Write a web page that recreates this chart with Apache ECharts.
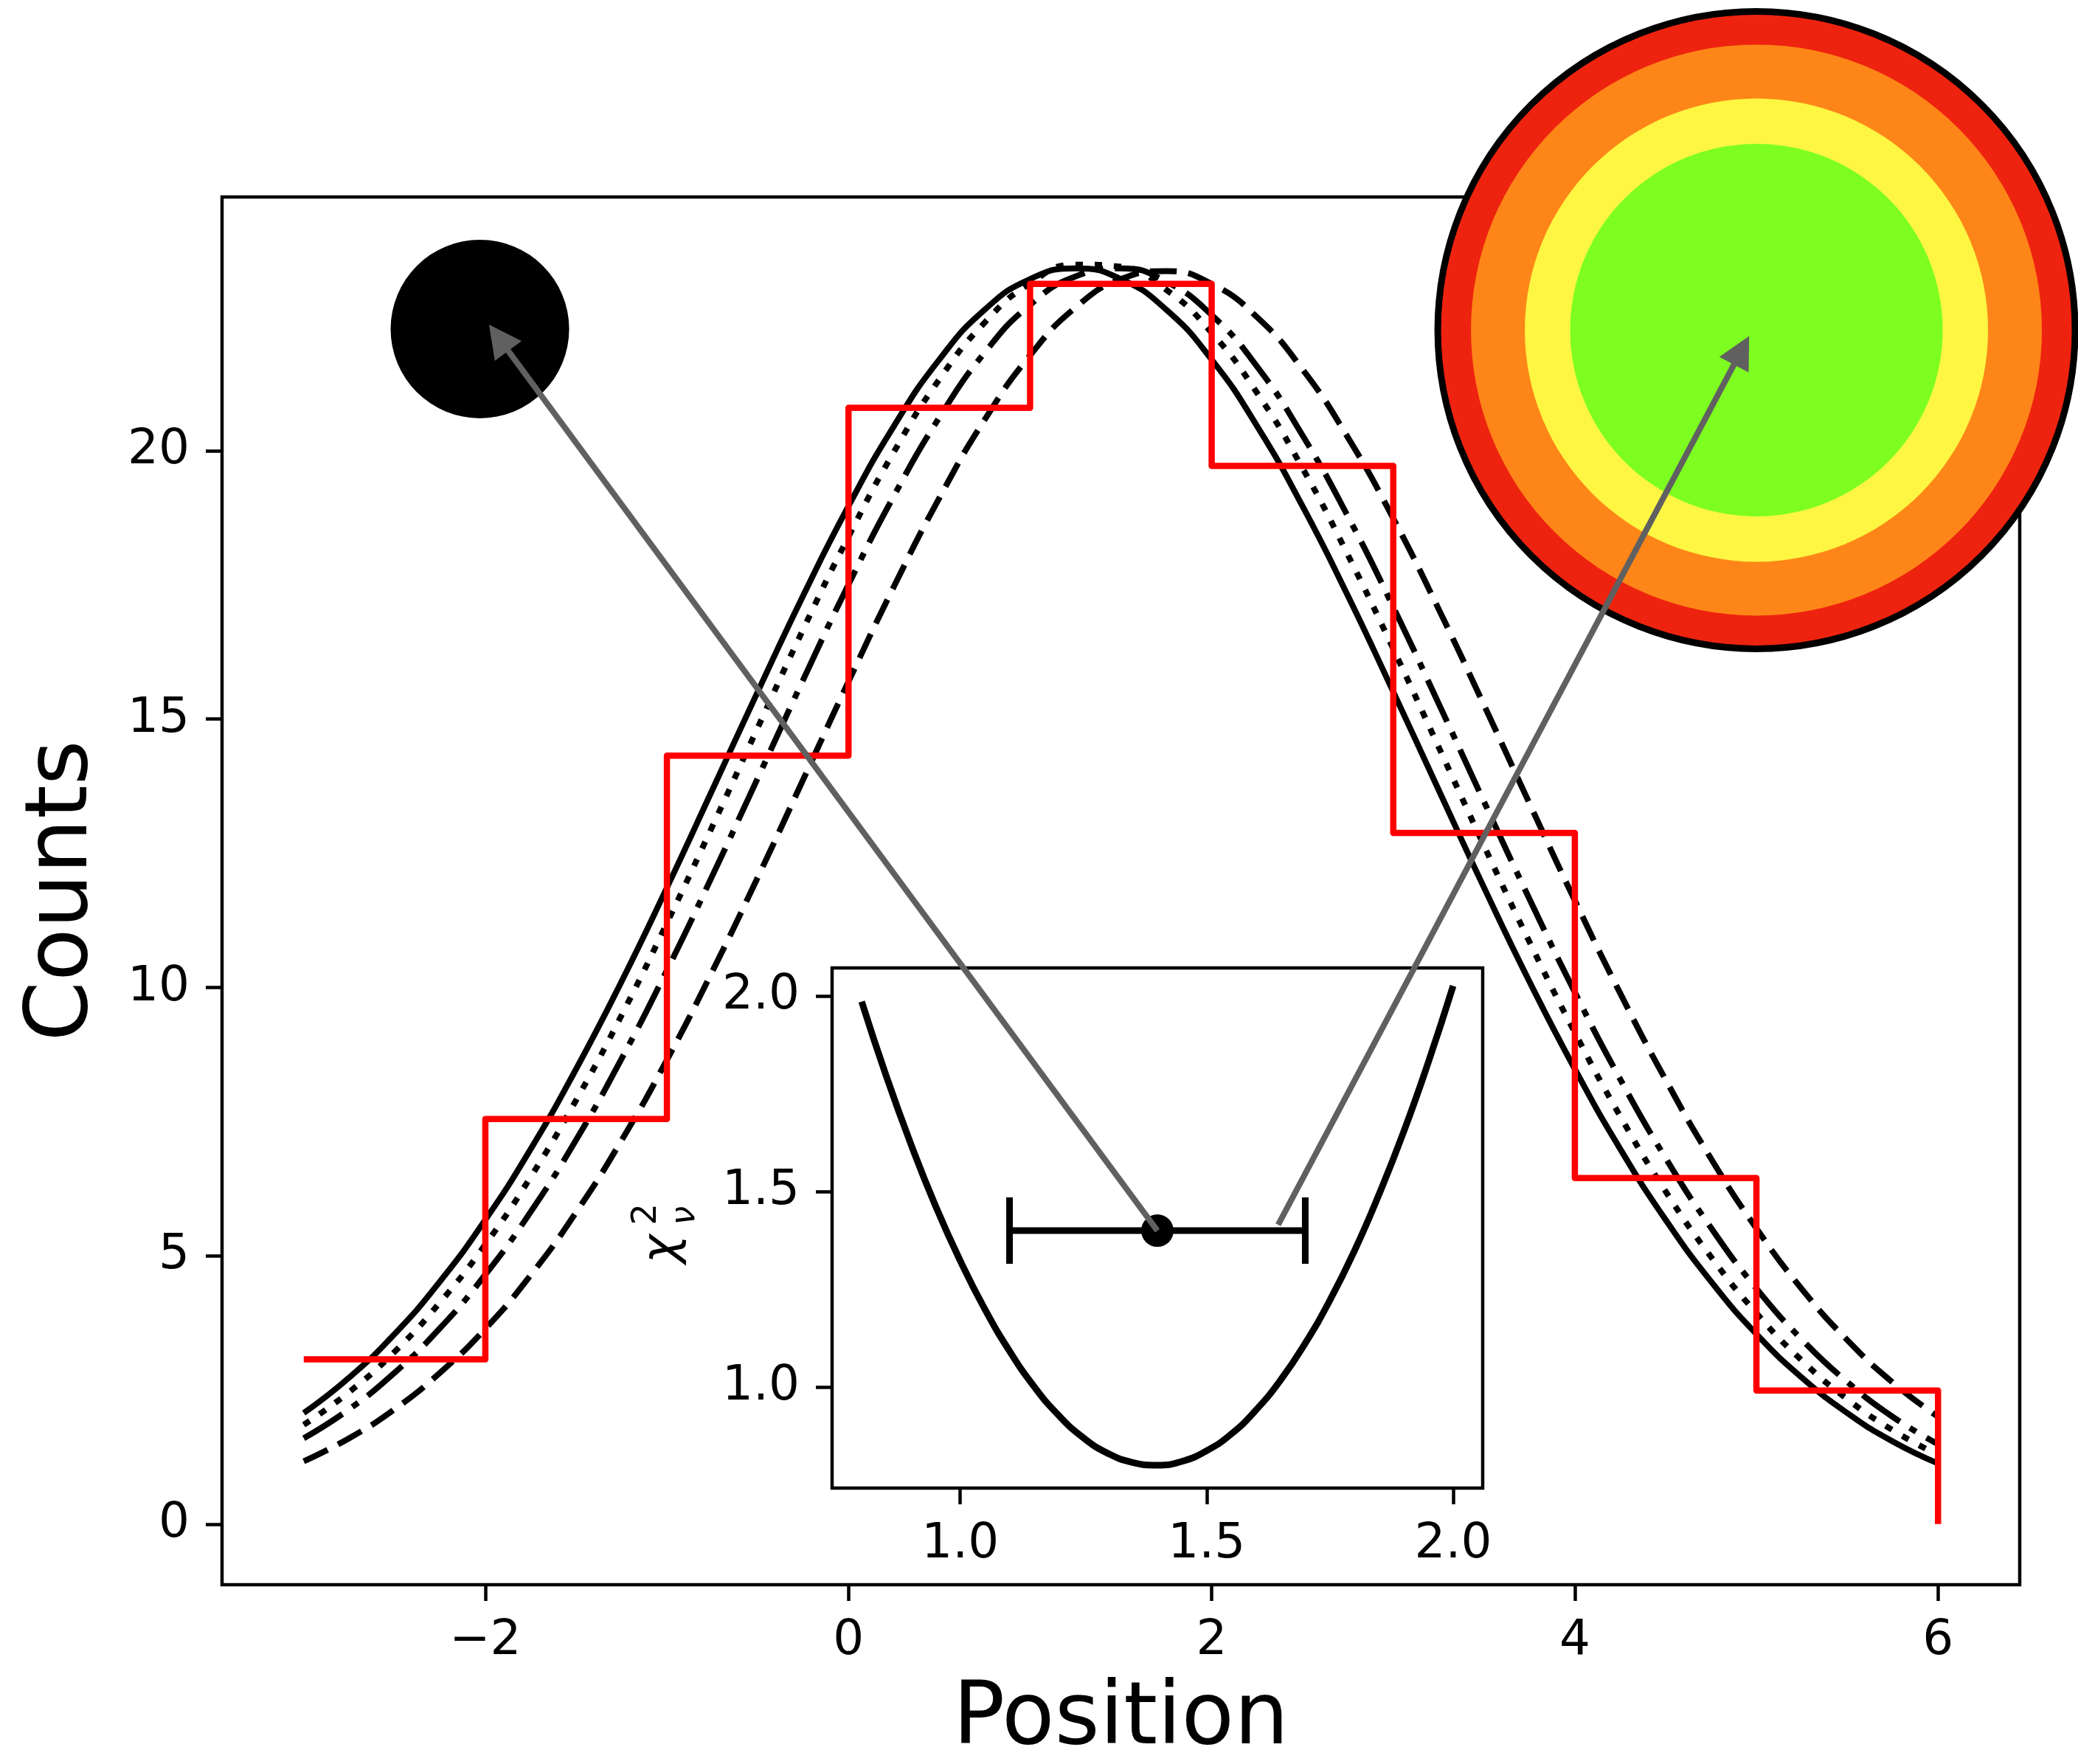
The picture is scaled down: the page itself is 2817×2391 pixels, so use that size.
<!DOCTYPE html>
<html>
<head>
<meta charset="utf-8">
<script src="https://cdn.jsdelivr.net/npm/echarts@6/dist/echarts.min.js"></script>
<style>
  html, body { margin: 0; padding: 0; background: #fff; }
  #chart { width: 2817px; height: 2391px; }
</style>
</head>
<body>
<div id="chart"></div>
<script>
// main panel: four model curves and the binned counts
var gaussX = [-3, -2.75, -2.5, -2.25, -2, -1.75, -1.5, -1.25, -1, -0.75, -0.5, -0.25, 0, 0.25, 0.5, 0.75, 1, 1.25, 1.5,
  1.75, 2, 2.25, 2.5, 2.75, 3, 3.25, 3.5, 3.75, 4, 4.25, 4.5, 4.75, 5, 5.25, 5.5, 5.75, 6];
var solidY = [2.07, 2.73, 3.54, 4.52, 5.67, 6.99, 8.48, 10.11, 11.86, 13.68, 15.51, 17.30, 18.97, 20.46, 21.70, 22.63, 23.20, 23.40, 23.20,
  22.63, 21.70, 20.46, 18.97, 17.30, 15.51, 13.68, 11.86, 10.11, 8.48, 6.99, 5.67, 4.52, 3.54, 2.73, 2.07, 1.54, 1.13];
var dottedY = [1.85, 2.46, 3.21, 4.13, 5.21, 6.47, 7.90, 9.48, 11.20, 13.00, 14.84, 16.67, 18.40, 19.98, 21.33, 22.39, 23.12, 23.47, 23.43,
  23.00, 22.20, 21.08, 19.68, 18.06, 16.31, 14.48, 12.64, 10.85, 9.16, 7.60, 6.20, 4.98, 3.93, 3.05, 2.33, 1.75, 1.29];
var dashDotY = [1.60, 2.14, 2.82, 3.65, 4.65, 5.82, 7.16, 8.67, 10.32, 12.08, 13.90, 15.73, 17.51, 19.16, 20.62, 21.83, 22.72, 23.25, 23.40,
  23.15, 22.53, 21.57, 20.29, 18.78, 17.09, 15.29, 13.46, 11.65, 9.91, 8.29, 6.82, 5.52, 4.39, 3.44, 2.65, 2.00, 1.49];
var dashedY = [1.17, 1.60, 2.14, 2.82, 3.64, 4.64, 5.81, 7.15, 8.65, 10.30, 12.05, 13.87, 15.70, 17.47, 19.12, 20.58, 21.78, 22.67, 23.20,
  23.35, 23.11, 22.49, 21.52, 20.25, 18.74, 17.05, 15.26, 13.43, 11.62, 9.89, 8.28, 6.81, 5.51, 4.38, 3.43, 2.64, 2.00];
var stepX = [-3, -2, -1, 0, 1, 2, 3, 4, 5, 6];
var stepY = [3.07, 7.55, 14.32, 20.80, 23.11, 19.72, 12.88, 6.45, 2.49, 0];

// inset: reduced chi-square curve and best fit
var chiX = [0.80, 0.85, 0.90, 0.95, 1.00, 1.05, 1.10, 1.15, 1.20, 1.25, 1.30, 1.35, 1.40,
  1.45, 1.50, 1.55, 1.60, 1.65, 1.70, 1.75, 1.80, 1.85, 1.90, 1.95, 2.00];
var chiY = [1.986, 1.795, 1.621, 1.463, 1.323, 1.199, 1.092, 1.001, 0.927, 0.870, 0.830, 0.807, 0.800,
  0.810, 0.837, 0.880, 0.941, 1.018, 1.112, 1.222, 1.349, 1.494, 1.654, 1.832, 2.026];
var bestFit = [1.4, 1.4];
var bestFitErr = 0.3;

// markers in the main panel and the arrows pointing at them
var blackDot = [-2.03, 22.27];
var ringDot = [5.0, 22.25];
var ringSizes = [864, 774, 628, 505];
var ringColors = ['#ee230f', '#fe8618', '#fef642', '#7dfe20'];
var arrowA = { from: [1.4, 1.4], to: [-1.98, 22.35] };     // from: inset coords, to: main coords
var arrowB = { from: [1.645, 1.415], to: [4.96, 22.14] };

var mainXTicks = [-2, 0, 2, 4, 6];
var mainYTicks = [0, 5, 10, 15, 20];
var insetTicks = [1.0, 1.5, 2.0];

var font = 'DejaVu Sans';

function pairs(xs, ys) {
  return xs.map(function(x, i) { return [x, ys[i]]; });
}

function axis(idx, min, max, ticks, fmt, extra) {
  var a = {
    type: 'value', gridIndex: idx, min: min, max: max,
    splitLine: { show: false },
    axisLine: { show: false, onZero: false },
    axisTick: { show: true, inside: false, customValues: ticks, length: 22, lineStyle: { color: '#000', width: 4.5 } },
    axisLabel: { customValues: ticks, formatter: fmt, fontSize: 66, fontFamily: font, color: '#000', margin: 44 }
  };
  for (var k in extra) a[k] = extra[k];
  return a;
}

function gaussSeries(ys, dash) {
  return {
    type: 'line', xAxisIndex: 0, yAxisIndex: 0, data: pairs(gaussX, ys),
    smooth: true, symbol: 'none', z: 2,
    lineStyle: { color: '#000', width: 8, type: dash }
  };
}

var chart = echarts.init(document.getElementById('chart'), null, { renderer: 'canvas' });

var series = [
  gaussSeries(solidY, 'solid'),
  gaussSeries(dottedY, [10, 16]),
  gaussSeries(dashDotY, [62, 16, 10, 16]),
  gaussSeries(dashedY, [36, 16]),
  {
    type: 'line', xAxisIndex: 0, yAxisIndex: 0, data: pairs(stepX, stepY),
    step: 'end', symbol: 'none', z: 3,
    lineStyle: { color: '#ff0000', width: 8.5, join: 'round' }
  },
  {
    type: 'scatter', xAxisIndex: 0, yAxisIndex: 0, data: [blackDot], clip: false, z: 4,
    symbol: 'circle', symbolSize: 242, itemStyle: { color: '#000', opacity: 1 }
  }
];
ringSizes.forEach(function(s, i) {
  series.push({
    type: 'scatter', xAxisIndex: 0, yAxisIndex: 0, data: [ringDot], clip: false, z: 4,
    symbol: 'circle', symbolSize: s,
    itemStyle: i === 0 ? { color: ringColors[i], borderColor: '#000', borderWidth: 9, opacity: 1 }
                       : { color: ringColors[i], opacity: 1 }
  });
});
series.push({
  type: 'line', xAxisIndex: 1, yAxisIndex: 1, data: pairs(chiX, chiY),
  smooth: true, symbol: 'none', z: 5,
  lineStyle: { color: '#000', width: 9 }
});
series.push({
  type: 'custom', xAxisIndex: 1, yAxisIndex: 1, z: 6,
  data: [[bestFit[0], bestFit[1], bestFitErr]],
  encode: { x: 0, y: 1 },
  renderItem: function(params, api) {
    var lo = api.coord([api.value(0) - api.value(2), api.value(1)]);
    var hi = api.coord([api.value(0) + api.value(2), api.value(1)]);
    var h = 45;
    var st = { stroke: '#000', lineWidth: 9 };
    return {
      type: 'group',
      children: [
        { type: 'line', shape: { x1: lo[0], y1: lo[1], x2: hi[0], y2: hi[1] }, style: st },
        { type: 'line', shape: { x1: lo[0], y1: lo[1] - h, x2: lo[0], y2: lo[1] + h }, style: st },
        { type: 'line', shape: { x1: hi[0], y1: hi[1] - h, x2: hi[0], y2: hi[1] + h }, style: st }
      ]
    };
  }
});
series.push({
  type: 'scatter', xAxisIndex: 1, yAxisIndex: 1, data: [bestFit], z: 7,
  symbol: 'circle', symbolSize: 44, itemStyle: { color: '#000', opacity: 1 }
});

chart.setOption({
  animation: false,
  backgroundColor: '#fff',
  grid: [
    { left: 301, top: 267, width: 2437, height: 1881, show: true, borderColor: '#000', borderWidth: 4.5,
      backgroundColor: 'transparent', outerBoundsMode: 'none' },
    { left: 1128, top: 1312, width: 882, height: 705, show: true, borderColor: '#000', borderWidth: 4.5,
      backgroundColor: '#fff', outerBoundsMode: 'none' }
  ],
  xAxis: [
    axis(0, -3.45, 6.45, mainXTicks, function(v) { return v < 0 ? '\u2212' + Math.abs(v) : String(v); }, {
      name: 'Position', nameLocation: 'middle', nameGap: 126,
      nameTextStyle: { fontSize: 117, fontFamily: font, color: '#000' }
    }),
    axis(1, 0.74, 2.06, insetTicks, function(v) { return v.toFixed(1); }, {})
  ],
  yAxis: [
    axis(0, -1.13, 24.73, mainYTicks, function(v) { return String(v); }, {
      name: 'Counts', nameLocation: 'middle', nameRotate: 90, nameGap: 156,
      nameTextStyle: { fontSize: 117, fontFamily: font, color: '#000' }
    }),
    axis(1, 0.7415, 2.072, insetTicks, function(v) { return v.toFixed(1); }, {})
  ],
  series: series
});

function arrow(a) {
  var p0 = chart.convertToPixel({ xAxisIndex: 1, yAxisIndex: 1 }, a.from);
  var p1 = chart.convertToPixel({ xAxisIndex: 0, yAxisIndex: 0 }, a.to);
  var dx = p1[0] - p0[0], dy = p1[1] - p0[1];
  var len = Math.sqrt(dx * dx + dy * dy);
  var ux = dx / len, uy = dy / len;
  var headLen = 44, headHalf = 22.5;
  var bx = p1[0] - ux * headLen, by = p1[1] - uy * headLen;
  return [
    { type: 'line', z: 100, shape: { x1: p0[0], y1: p0[1], x2: bx + ux * 4, y2: by + uy * 4 },
      style: { stroke: '#606060', lineWidth: 8 } },
    { type: 'polygon', z: 100,
      shape: { points: [[p1[0], p1[1]], [bx - uy * headHalf, by + ux * headHalf], [bx + uy * headHalf, by - ux * headHalf]] },
      style: { fill: '#606060' } }
  ];
}

// inset y label: chi with stacked super/subscript, read bottom to top
var insetMid = chart.convertToPixel({ xAxisIndex: 1, yAxisIndex: 1 }, [0.74, (0.7415 + 2.072) / 2]);
var chiLabel = {
  type: 'group', x: insetMid[0] - 206, y: insetMid[1] + 48, rotation: Math.PI / 2, z: 50,
  children: [
    { type: 'text', x: 0, y: -23,
      style: { text: '\u03c7', fontSize: 66, fontStyle: 'italic', fontFamily: font, fill: '#000', align: 'left', verticalAlign: 'middle' } },
    { type: 'text', x: 52, y: -45,
      style: { text: '2', fontSize: 46, fontFamily: font, fill: '#000', align: 'left', verticalAlign: 'middle' } },
    { type: 'text', x: 52, y: 7,
      style: { text: '\u03bd', fontSize: 46, fontStyle: 'italic', fontFamily: font, fill: '#000', align: 'left', verticalAlign: 'middle' } }
  ]
};

chart.setOption({ graphic: arrow(arrowA).concat(arrow(arrowB)).concat([chiLabel]) });
</script>
</body>
</html>
